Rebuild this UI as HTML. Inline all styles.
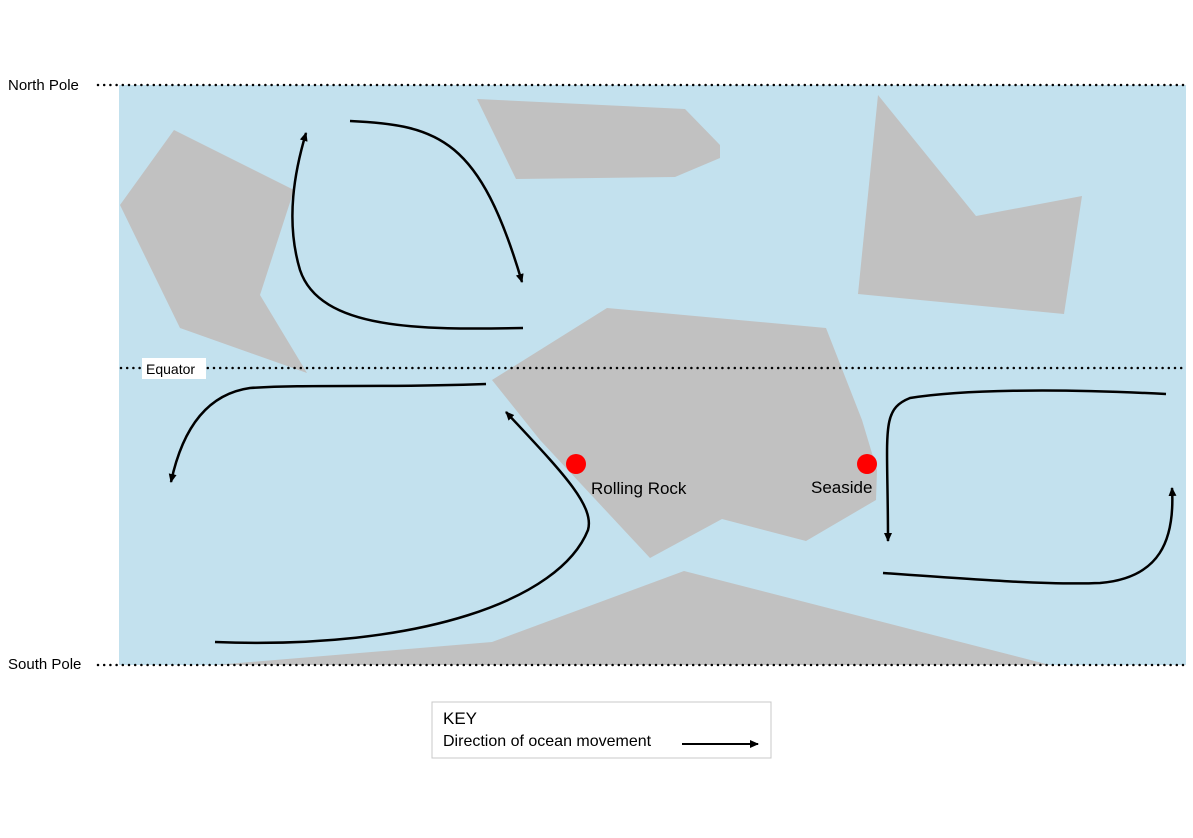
<!DOCTYPE html>
<html><head><style>body{margin:0;background:#fff}svg{display:block}text{font-family:"Liberation Sans",sans-serif}</style></head><body>
<svg width="1193" height="838" viewBox="0 0 1193 838">
<defs><marker id="a" markerWidth="10" markerHeight="10" refX="8" refY="5" orient="auto" markerUnits="userSpaceOnUse"><path d="M0,1 L9,5 L0,9 Z" fill="#000"/></marker></defs>
<rect x="119" y="85" width="1067" height="580" fill="#c3e1ee"/>
<g fill="#c1c1c1">
<polygon points="120,205 174,130 294,190 260,295 307,373 180,328"/>
<polygon points="477,99 685,109 720,145 720,158 675,177 516,179"/>
<polygon points="878,95 976,216 1082,196 1064,314 858,294"/>
<polygon points="492,380 607,308 826,328 862,420 877,470 876,500 806,541 722,519 650,558 540,440"/>
<polygon points="215,665 492,642 684,571 1050,665"/>
</g>
<g stroke="#000" stroke-width="2.5" stroke-dasharray="0 6.2" stroke-linecap="round">
<line x1="98" y1="85" x2="1186" y2="85"/>
<line x1="121" y1="368" x2="1186" y2="368"/>
<line x1="98" y1="665" x2="1186" y2="665"/>
</g>
<rect x="142" y="358" width="64" height="21" fill="#fff"/>
<text x="146" y="374" font-size="14">Equator</text>
<text x="8" y="90" font-size="15">North Pole</text>
<text x="8" y="669" font-size="15">South Pole</text>
<g fill="none" stroke="#000" stroke-width="2.5" marker-end="url(#a)">
<path d="M523,328 C420,330 320,330 300,270 C285,220 295,170 306,133"/>
<path d="M350,121 C440,125 480,140 522,282"/>
<path d="M486,384 C380,388 310,384 250,388 C200,395 180,440 171,482"/>
<path d="M215,642 C420,650 560,600 588,530 C595,505 560,470 506,412"/>
<path d="M1166,394 C1050,388 960,390 910,398 C880,410 888,430 888,541"/>
<path d="M883,573 C980,580 1050,585 1100,583 C1160,578 1175,540 1172,488"/>
</g>
<circle cx="576" cy="464" r="10" fill="#f00"/>
<circle cx="867" cy="464" r="10" fill="#f00"/>
<text x="591" y="494" font-size="17">Rolling Rock</text>
<text x="811" y="493" font-size="17">Seaside</text>
<rect x="432" y="702" width="339" height="56" fill="#fff" stroke="#c8c8c8"/>
<text x="443" y="724" font-size="17">KEY</text>
<text x="443" y="746" font-size="16">Direction of ocean movement</text>
<line x1="682" y1="744" x2="758" y2="744" stroke="#000" stroke-width="2" marker-end="url(#a)"/>
</svg>
</body></html>
